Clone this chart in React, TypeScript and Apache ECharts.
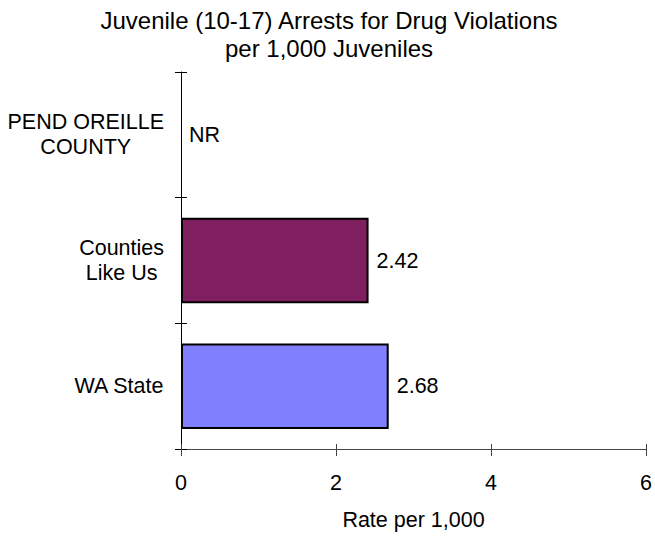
import React, { useEffect, useRef } from "react";
import * as echarts from "echarts";

const categories = ["PEND OREILLE\nCOUNTY", "Counties\nLike Us", "WA State"];
const values: (number | null)[] = [null, 2.42, 2.68];
const barColors = ["#7F1F5F", "#7F1F5F", "#8080FF"];
const xTicks = [0, 2, 4, 6];
const titleLines = ["Juvenile (10-17) Arrests for Drug Violations", "per 1,000 Juveniles"];
const xAxisTitle = "Rate per 1,000";
const missingLabel = "NR";

const FONT = "'Liberation Sans', Arial, sans-serif";
const FS = 21.5;

export default function App() {
  const ref = useRef<HTMLDivElement>(null);
  useEffect(() => {
    if (!ref.current) return;
    const chart = echarts.init(ref.current, undefined, { renderer: "svg" });
    const seriesData = values.map((v, i) =>
      v == null
        ? {
            value: 0,
            itemStyle: { color: "transparent", borderWidth: 0 },
            label: { formatter: missingLabel },
          }
        : { value: v, itemStyle: { color: barColors[i] } }
    );
    const xMin = xTicks[0];
    const xMax = xTicks[xTicks.length - 1];
    const xInt = xTicks[1] - xTicks[0];
    chart.setOption({
      animation: false,
      backgroundColor: "#fff",
      title: {
        text: titleLines.join("\n"),
        left: 329,
        textAlign: "center",
        top: 6,
        padding: 0,
        textStyle: {
          fontFamily: FONT,
          fontSize: 24,
          fontWeight: "normal",
          color: "#000",
          lineHeight: 28,
        },
      },
      grid: { left: 181, right: 6, top: 72, bottom: 79, containLabel: false },
      xAxis: [
        {
          type: "value",
          min: xMin,
          max: xMax,
          interval: xInt,
          position: "bottom",
          axisLine: { show: true, lineStyle: { color: "#444", width: 1 } },
          axisTick: { show: true, inside: false, length: 7, lineStyle: { color: "#444" } },
          axisLabel: { show: true, margin: 23, fontFamily: FONT, fontSize: FS, color: "#000" },
          splitLine: { show: false },
          name: xAxisTitle,
          nameLocation: "middle",
          nameGap: 60,
          nameTextStyle: { fontFamily: FONT, fontSize: FS, color: "#000" },
        },
        {
          type: "value",
          min: xMin,
          max: xMax,
          interval: xInt,
          position: "bottom",
          axisLine: { show: false },
          axisTick: { show: true, inside: true, length: 5, lineStyle: { color: "#444" } },
          axisLabel: { show: false },
          splitLine: { show: false },
        },
      ],
      yAxis: [
        {
          type: "category",
          data: categories,
          inverse: true,
          position: "left",
          axisLine: { show: true, lineStyle: { color: "#000", width: 1 } },
          axisTick: { show: true, inside: false, length: 6, lineStyle: { color: "#000" } },
          axisLabel: {
            show: true,
            margin: 17,
            fontFamily: FONT,
            fontSize: FS,
            color: "#000",
            formatter: (v: string) =>
              v
                .split("\n")
                .map((s) => `{c|${s}}`)
                .join("\n"),
            rich: {
              c: { align: "center", fontFamily: FONT, fontSize: FS, color: "#000", lineHeight: 25 },
            },
          },
          splitLine: { show: false },
        },
        {
          type: "category",
          data: categories,
          inverse: true,
          position: "left",
          axisLine: { show: false },
          axisTick: { show: true, inside: true, length: 6, lineStyle: { color: "#000" } },
          axisLabel: { show: false },
          splitLine: { show: false },
        },
      ],
      series: [
        {
          type: "bar",
          xAxisIndex: 0,
          yAxisIndex: 0,
          data: seriesData,
          barCategoryGap: "32%",
          itemStyle: { borderColor: "#000", borderWidth: 2 },
          label: {
            show: true,
            position: "right",
            distance: 8,
            fontFamily: FONT,
            fontSize: FS,
            color: "#000",
          },
        },
      ],
    });
    return () => chart.dispose();
  }, []);
  return (
    <div
      ref={ref}
      style={{ position: "fixed", left: 0, top: 0, width: 655, height: 536 }}
    />
  );
}
